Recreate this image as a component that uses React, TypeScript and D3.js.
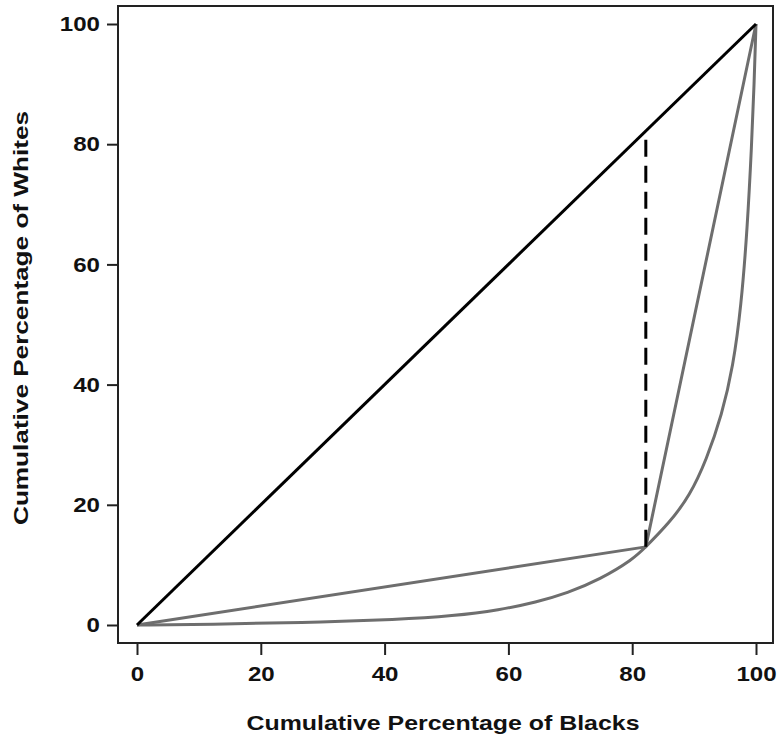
import React, { useEffect, useRef } from "react";
import * as d3 from "d3";

const xTicks = [0, 20, 40, 60, 80, 100];
const yTicks = [0, 20, 40, 60, 80, 100];
const equalityLine = [
  { x: 0, y: 0 },
  { x: 100, y: 100 },
];
const twoGroupLine = [
  { x: 0, y: 0 },
  { x: 82.2, y: 13 },
  { x: 100, y: 100 },
];
const lorenzX = [0, 12, 26.3, 42.5, 51, 58.6, 64.5, 69.5, 74.8, 80.1, 82.2, 86, 89.3, 92, 94.5, 96.3, 97.6, 98.6, 99.3, 99.7, 100];
const lorenzY = [0, 0.1, 0.4, 0.9, 1.5, 2.5, 3.8, 5.3, 7.6, 10.9, 13, 17, 21.5, 27.5, 35, 43, 53, 66, 80, 90, 100];
const dashX = 82.2;
const dashY = [13, 82.2];

export default function App() {
  const ref = useRef<SVGSVGElement>(null);
  useEffect(() => {
    const svg = d3.select(ref.current);
    svg.selectAll("*").remove();
    const x = d3.scaleLinear().domain([0, 100]).range([137, 756]);
    const y = d3.scaleLinear().domain([0, 100]).range([625, 24]);
    const font = "'Liberation Sans', Arial, sans-serif";

    // frame
    svg.append("rect").attr("x", 118).attr("y", 6).attr("width", 655).attr("height", 637)
      .attr("fill", "white").attr("stroke", "#222").attr("stroke-width", 2);

    const styleTicks = (g: any) => {
      g.select(".domain").remove();
      g.selectAll("line").attr("stroke", "#222").attr("stroke-width", 2);
      g.selectAll("text").attr("font-family", font).attr("font-weight", "bold").attr("font-size", 21)
        .attr("fill", "#111")
        .attr("textLength", (d: number) => String(d).length * 13.4)
        .attr("lengthAdjust", "spacingAndGlyphs");
    };

    const xAxis = svg.append("g").attr("transform", "translate(0,643)")
      .call(d3.axisBottom(x).tickValues(xTicks).tickSize(12).tickPadding(11).tickFormat(d3.format("d")));
    styleTicks(xAxis);

    const yAxis = svg.append("g").attr("transform", "translate(118,0)")
      .call(d3.axisLeft(y).tickValues(yTicks).tickSize(11).tickPadding(7).tickFormat(d3.format("d")));
    styleTicks(yAxis);

    const line = d3.line<{ x: number; y: number }>().x((d) => x(d.x)).y((d) => y(d.y));
    const lorenz = lorenzX.map((v, i) => ({ x: v, y: lorenzY[i] }));

    svg.append("path").attr("d", line.curve(d3.curveBasis)(lorenz)!).attr("fill", "none")
      .attr("stroke", "#6e6e6e").attr("stroke-width", 3);
    line.curve(d3.curveLinear);
    svg.append("path").attr("d", line(twoGroupLine)!).attr("fill", "none")
      .attr("stroke", "#6e6e6e").attr("stroke-width", 3).attr("stroke-linejoin", "round");
    svg.append("path").attr("d", line(equalityLine)!).attr("fill", "none")
      .attr("stroke", "#000").attr("stroke-width", 3);
    svg.append("path").attr("d", line(dashY.map((v) => ({ x: dashX, y: v })))!).attr("fill", "none")
      .attr("stroke", "#000").attr("stroke-width", 3).attr("stroke-dasharray", "17,9");

    svg.append("text").attr("x", 443).attr("y", 730).attr("text-anchor", "middle")
      .attr("font-family", font).attr("font-weight", "bold").attr("font-size", 21).attr("fill", "#111")
      .attr("textLength", 393).attr("lengthAdjust", "spacingAndGlyphs")
      .text("Cumulative Percentage of Blacks");
    svg.append("text").attr("transform", "translate(28,318) rotate(-90)").attr("text-anchor", "middle")
      .attr("font-family", font).attr("font-weight", "bold").attr("font-size", 21).attr("fill", "#111")
      .attr("textLength", 414).attr("lengthAdjust", "spacingAndGlyphs")
      .text("Cumulative Percentage of Whites");
  }, []);
  return (
    <svg ref={ref} width={780} height={736} style={{ position: "absolute", left: 0, top: 0, background: "white" }} />
  );
}
